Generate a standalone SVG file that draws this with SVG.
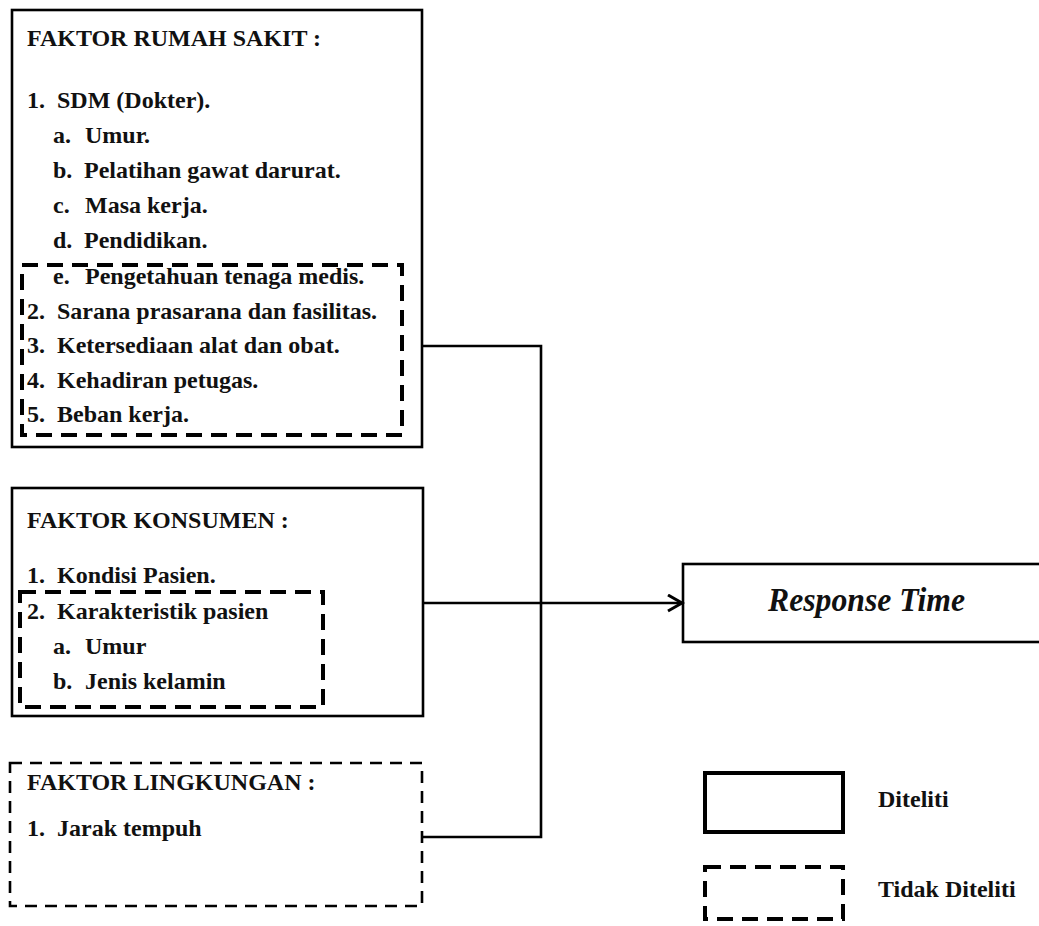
<svg xmlns="http://www.w3.org/2000/svg" width="1039" height="926" viewBox="0 0 1039 926">
<defs>
<style>
.t{font-family:"Liberation Serif","Times New Roman",serif;font-weight:bold;font-size:24px;fill:#111;}
.rt{font-family:"Liberation Serif","Times New Roman",serif;font-weight:bold;font-style:italic;font-size:33px;fill:#111;}
.solid{fill:none;stroke:#000;stroke-width:2.6;}
.dashIn{fill:none;stroke:#000;stroke-width:4;stroke-dasharray:16 9;}
.dashOut{fill:none;stroke:#000;stroke-width:2.6;stroke-dasharray:12 8;}
.conn{fill:none;stroke:#000;stroke-width:2.6;}
</style>
<marker id="chev" markerWidth="20" markerHeight="20" refX="15" refY="9" orient="auto" markerUnits="userSpaceOnUse">
<path d="M1,1 L15,9 L1,17" fill="none" stroke="#000" stroke-width="3"/>
</marker>
</defs>
<rect width="1039" height="926" fill="#fff"/>

<g id="faktor-rumah-sakit">
<rect class="solid" x="12" y="10" width="410" height="437"/>
<rect class="dashIn" x="22" y="265" width="380" height="170"/>
<text class="t" x="27" y="46">FAKTOR RUMAH SAKIT :</text>
<text class="t" x="27" y="108">1.</text><text class="t" x="57" y="108">SDM (Dokter).</text>
<text class="t" x="53" y="143">a.</text><text class="t" x="85" y="143">Umur.</text>
<text class="t" x="53" y="178">b.</text><text class="t" x="84" y="178">Pelatihan gawat darurat.</text>
<text class="t" x="53" y="213">c.</text><text class="t" x="85" y="213">Masa kerja.</text>
<text class="t" x="53" y="248">d.</text><text class="t" x="84" y="248">Pendidikan.</text>
<text class="t" x="53" y="284">e.</text><text class="t" x="85" y="284">Pengetahuan tenaga medis.</text>
<text class="t" x="27" y="319">2.</text><text class="t" x="57" y="319">Sarana prasarana dan fasilitas.</text>
<text class="t" x="27" y="353">3.</text><text class="t" x="57" y="353">Ketersediaan alat dan obat.</text>
<text class="t" x="27" y="388">4.</text><text class="t" x="57" y="388">Kehadiran petugas.</text>
<text class="t" x="27" y="422">5.</text><text class="t" x="57" y="422">Beban kerja.</text>
</g>

<g id="faktor-konsumen">
<rect class="solid" x="12" y="488" width="411" height="228"/>
<rect class="dashIn" x="20" y="592" width="303" height="115"/>
<text class="t" x="27" y="528">FAKTOR KONSUMEN :</text>
<text class="t" x="27" y="583">1.</text><text class="t" x="57" y="583">Kondisi Pasien.</text>
<text class="t" x="27" y="619">2.</text><text class="t" x="57" y="619">Karakteristik pasien</text>
<text class="t" x="53" y="654">a.</text><text class="t" x="85" y="654">Umur</text>
<text class="t" x="53" y="689">b.</text><text class="t" x="85" y="689">Jenis kelamin</text>
</g>

<g id="faktor-lingkungan">
<rect class="dashOut" x="10" y="763" width="412" height="143"/>
<text class="t" x="27" y="790">FAKTOR LINGKUNGAN :</text>
<text class="t" x="27" y="836">1.</text><text class="t" x="57" y="836">Jarak tempuh</text>
</g>

<g id="response-time">
<rect class="solid" x="683" y="564" width="370" height="78"/>
<text class="rt" x="768" y="611" textLength="197" lengthAdjust="spacingAndGlyphs">Response Time</text>
</g>

<g id="legend">
<rect fill="none" stroke="#000" stroke-width="4" x="705" y="773" width="138" height="59"/>
<text class="t" x="878" y="807">Diteliti</text>
<rect class="dashIn" x="705" y="867" width="138" height="52"/>
<text class="t" x="878" y="897">Tidak Diteliti</text>
</g>

<g id="connectors">
<polyline class="conn" points="422,346 541,346 541,837 422,837"/>
<line class="conn" x1="423" y1="603" x2="682" y2="603" marker-end="url(#chev)"/>
</g>
</svg>
